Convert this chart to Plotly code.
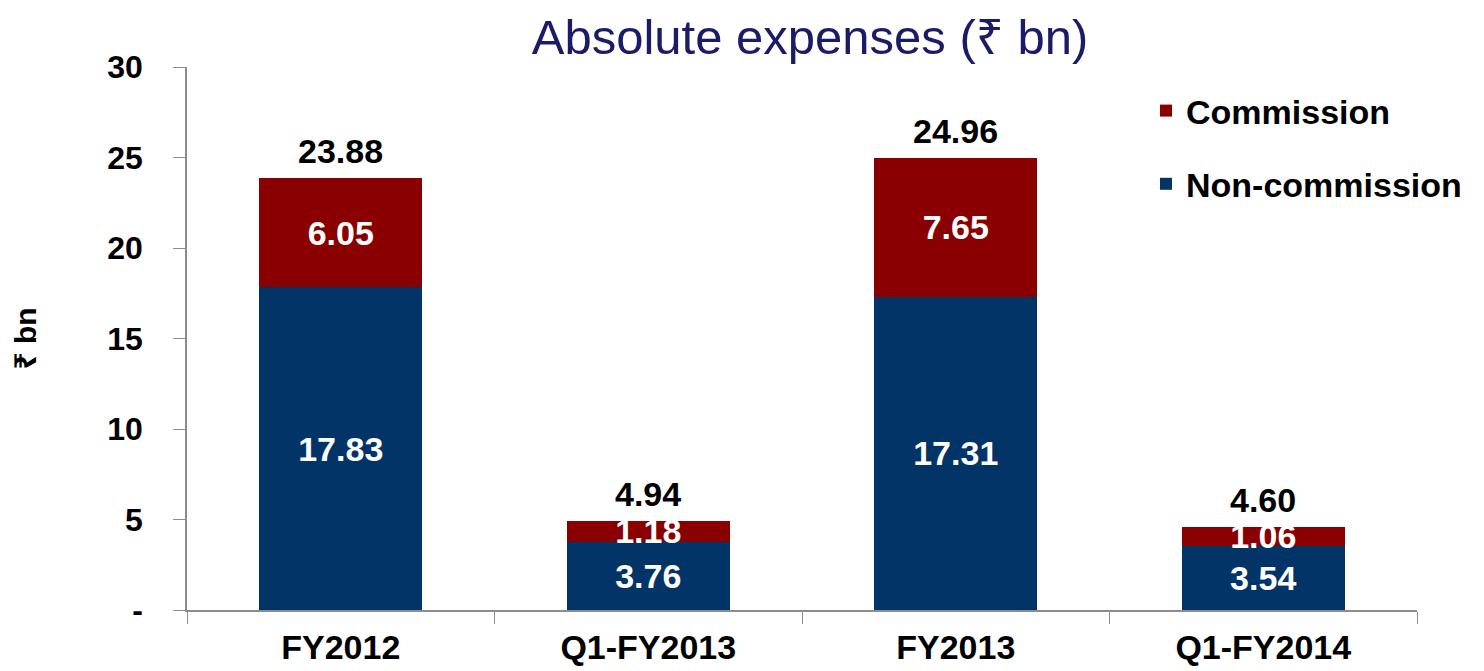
import plotly.graph_objects as go

# Expense breakdown by period (₹ bn)
periods = ["FY2012", "Q1-FY2013", "FY2013", "Q1-FY2014"]
non_commission = [17.83, 3.76, 17.31, 3.54]
commission = [6.05, 1.18, 7.65, 1.06]
y_tick_vals = [0, 5, 10, 15, 20, 25, 30]
y_tick_text = ["-", "5", "10", "15", "20", "25", "30"]

totals = [round(a + b, 2) for a, b in zip(non_commission, commission)]

FONT = "Liberation Sans, Arial, Noto Sans, DejaVu Sans, sans-serif"
NAVY = "#033468"
MAROON = "#8a0000"

fig = go.Figure()
fig.add_trace(go.Bar(
    x=periods, y=non_commission, name="Non-commission",
    marker=dict(color=NAVY, line=dict(width=0)),
    text=[f"{v:.2f}" for v in non_commission],
    textposition="inside", insidetextanchor="middle",
    textfont=dict(family=FONT, size=34, color="white", weight="bold"),
    legendgroup="nc", legendrank=2,
))
fig.add_trace(go.Bar(
    x=periods, y=commission, name="Commission",
    marker=dict(color=MAROON, line=dict(width=0)),
    text=[f"{v:.2f}" for v in commission],
    textposition="inside", insidetextanchor="middle",
    textfont=dict(family=FONT, size=34, color="white", weight="bold"),
    legendgroup="c", legendrank=1,
))

# Totals above each stack
for p, t in zip(periods, totals):
    fig.add_annotation(
        x=p, y=t, text=f"{t:.2f}", showarrow=False,
        yanchor="bottom", yshift=6,
        font=dict(family=FONT, size=34, color="black", weight="bold"),
    )

fig.update_layout(
    width=1484, height=671,
    margin=dict(l=187, r=67, t=67, b=61, autoexpand=False),
    paper_bgcolor="white", plot_bgcolor="white",
    barmode="stack", bargap=0.47,
    uniformtext=dict(minsize=34, mode="show"),
    title=dict(
        text="Absolute expenses (₹ bn)",
        x=(810 - 187) / 1230, xref="paper", xanchor="center",
        y=1 - 37 / 671, yref="container", yanchor="middle",
        font=dict(family=FONT, size=49, color="#1b1b68"),
    ),
    legend=dict(
        x=(1146 - 187) / 1230, xanchor="left",
        y=(610 - 82) / 543, yanchor="top",
        traceorder="grouped", tracegroupgap=26,
        font=dict(family=FONT, size=34, color="black", weight="bold"),
        bgcolor="rgba(0,0,0,0)", itemwidth=30,
    ),
    showlegend=True,
)

fig.update_xaxes(
    showline=True, linecolor="#8c8c8c", linewidth=1.5,
    ticks="outside", tickson="boundaries", ticklen=12, tickcolor="#8c8c8c",
    tickfont=dict(family=FONT, size=34, color="black", weight="bold"),
    ticklabelstandoff=6, automargin=False,
    showgrid=False, zeroline=False,
)
fig.update_yaxes(
    range=[0, 30], tickvals=y_tick_vals, ticktext=y_tick_text,
    showline=True, linecolor="#8c8c8c", linewidth=1.5,
    ticks="outside", ticklen=12, tickcolor="#8c8c8c",
    tickfont=dict(family=FONT, size=32, color="black", weight="bold"),
    ticklabelstandoff=24, automargin=False,
    showgrid=False, zeroline=False,
    title=dict(text="₹ bn", standoff=62,
               font=dict(family=FONT, size=30, color="black", weight="bold")),
)

fig.write_html("out.html")
